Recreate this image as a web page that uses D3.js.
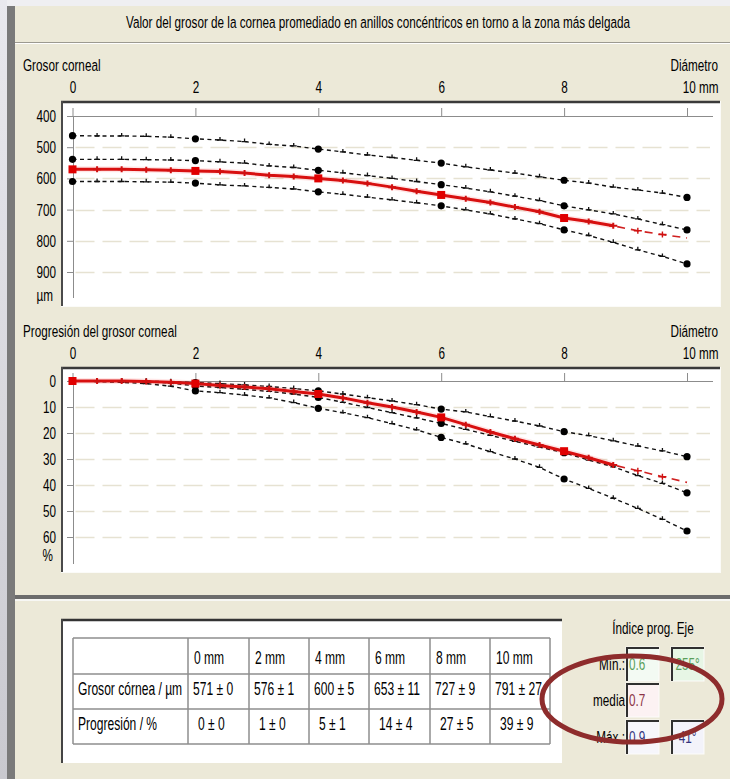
<!DOCTYPE html>
<html><head><meta charset="utf-8">
<script src="https://cdn.jsdelivr.net/npm/d3@7"></script>
<style>html,body{margin:0;padding:0;background:#fff;}svg{display:block;font-family:"Liberation Sans",Arial,sans-serif;}</style>
</head><body><svg id="c" width="730" height="779"></svg>
<script>
// ---------- data ----------
const diameters = [0,0.4,0.8,1.2,1.6,2,2.4,2.8,3.2,3.6,4,4.4,4.8,5.2,5.6,6,6.4,6.8,7.2,7.6,8,8.4,8.8,9.2,9.6,10];
const majorDiameters = [0,2,4,6,8,10];
const thicknessTicks = [400,500,600,700,800,900];
const progressionTicks = [0,10,20,30,40,50,60];

const thickUpper   = [463,464,464,465,468,473,477,482,491,496,506,515,525,533,542,551,563,573,583,595,606,615,628,637,647,661];
const thickMiddle  = [539,539,539,540,541,543,547,551,560,565,574,582,591,600,610,620,631,643,657,671,688,701,714,730,748,765];
const thickLower   = [610,610,610,611,612,615,621,624,629,634,643,651,660,669,678,688,701,714,730,745,765,783,805,829,850,874];
const thickPatient = [571,571,571,572,574,576,578,583,590,594,600,607,616,628,641,653,665,677,692,707,727,738,752,768,780,791];

const progUpper   = [0,0,0,0.1,0.3,0.6,1.0,1.5,2.1,2.9,3.8,5.0,6.4,7.7,9.1,10.8,11.9,13.7,15.4,17.3,19.5,21.0,23.0,25.0,26.9,29.1];
const progMiddle  = [0,0,0.1,0.3,0.8,1.9,2.5,3.2,4.0,5.0,6.3,8.2,10.2,12.2,14.2,16.3,18.6,20.9,23.2,25.4,27.6,30.4,33.0,36.4,39.4,43.0];
const progLower   = [0,0.2,0.5,1.0,2.0,3.8,4.5,5.4,6.5,8.3,10.5,12.2,14.1,16.4,18.8,21.7,24.2,27.2,30.0,33.2,37.7,41.3,45.1,49.0,53.2,57.7];
const progPatient = [0,0,0,0.2,0.5,1.0,1.7,2.3,3.0,4.0,5.0,6.5,8.4,10.0,11.9,14.0,16.8,19.6,22.2,24.6,27.0,29.5,32.3,34.5,36.8,39.0];
const patientMeasuredUntil = 8.8;

const tableHeaders     = ["0 mm","2 mm","4 mm","6 mm","8 mm","10 mm"];
const tableThickness   = ["571 ± 0","576 ± 1","600 ± 5","653 ± 11","727 ± 9","791 ± 27"];
const tableProgression = ["0 ± 0","1 ± 0","5 ± 1","14 ± 4","27 ± 5","39 ± 9"];
const tableRowLabels   = ["Grosor córnea / µm","Progresión / %"];

const indexLabels = ["Mín.:","media","Máx.:"];
const indexValues = ["0.6","0.7","0.9"];
const axisValues  = ["255°",null,"41°"];

// ---------- setup ----------
const svg = d3.select("#c");
const S = 0.69;  // horizontal squeeze of the condensed lettering
const FS = 17;
const BEIGE = "#ece9d8";

function label(parent, x, y, s, anchor, size, fill) {
  return parent.append("text")
    .attr("transform", `translate(${x},${y}) scale(${S},1)`)
    .attr("text-anchor", anchor || "start")
    .attr("font-size", size || FS)
    .attr("fill", fill || "#000")
    .text(s);
}
function squeeze(sel) {
  sel.selectAll("text").each(function () {
    const t = d3.select(this);
    const x = +t.attr("x") || 0;
    t.attr("x", x / S).attr("transform", `scale(${S},1)`);
  });
}

// background / frame
const defs = svg.append("defs");
const lg = defs.append("linearGradient").attr("id","leftg").attr("x1",0).attr("y1",0).attr("x2",0).attr("y2",1);
lg.append("stop").attr("offset","0").attr("stop-color","#e9e9ee");
lg.append("stop").attr("offset","1").attr("stop-color","#c9c9cf");
svg.append("rect").attr("width",730).attr("height",779).attr("fill","#efeff2");
svg.append("rect").attr("x",0).attr("y",0).attr("width",7).attr("height",779).attr("fill","url(#leftg)");
svg.append("rect").attr("x",7).attr("y",6).attr("width",8).attr("height",773).attr("fill","#7a7a7a");
svg.append("rect").attr("x",15).attr("y",6).attr("width",715).attr("height",589).attr("fill",BEIGE);
svg.append("rect").attr("x",15).attr("y",601).attr("width",715).attr("height",178).attr("fill",BEIGE);
svg.append("rect").attr("x",15).attr("y",595).attr("width",715).attr("height",4).attr("fill","#6c6c6c");
svg.append("rect").attr("x",15).attr("y",599).attr("width",715).attr("height",2).attr("fill","#f7f7f4");
// title
label(svg, 378, 28, "Valor del grosor de la cornea promediado en anillos concéntricos en torno a la zona más delgada", "middle");
svg.append("line").attr("x1",15).attr("x2",730).attr("y1",42.5).attr("y2",42.5).attr("stroke","#9c9a90");
svg.append("line").attr("x1",15).attr("x2",730).attr("y1",43.5).attr("y2",43.5).attr("stroke","#ffffff");

const x = d3.scaleLinear().domain([0,10]).range([72.5,687]);

function drawChart(cfg) {
  const g = svg.append("g");
  const y = d3.scaleLinear().domain(cfg.yDomain).range(cfg.yRange);
  const y0 = y(cfg.yDomain[0]);
  // plot box
  g.append("rect").attr("x",61).attr("y",cfg.top).attr("width",659).attr("height",cfg.bottom-cfg.top).attr("fill","#fff");
  g.append("line").attr("x1",61).attr("x2",720).attr("y1",cfg.top+1).attr("y2",cfg.top+1).attr("stroke","#3a3a3a").attr("stroke-width",2.5);
  g.append("line").attr("x1",62).attr("x2",62).attr("y1",cfg.top).attr("y2",cfg.bottom).attr("stroke","#4a4a4a").attr("stroke-width",2);
  g.append("line").attr("x1",720.5).attr("x2",720.5).attr("y1",cfg.top).attr("y2",cfg.bottom).attr("stroke","#fbfbf8");
  g.append("line").attr("x1",61).attr("x2",721).attr("y1",cfg.bottom+0.5).attr("y2",cfg.bottom+0.5).attr("stroke","#fbfbf8");
  // dashed grid
  g.append("g").selectAll("line").data(cfg.ticks.slice(1)).join("line")
    .attr("x1",x(0)+3).attr("x2",710).attr("y1",d=>Math.round(y(d))+0.5).attr("y2",d=>Math.round(y(d))+0.5)
    .attr("stroke","#e6e2d2").attr("stroke-width",1.6).attr("stroke-dasharray","19,8");
  // axis lines
  g.append("line").attr("x1",x(0)).attr("x2",713).attr("y1",Math.round(y0)+0.5).attr("y2",Math.round(y0)+0.5).attr("stroke","#8c8c8c");
  g.append("line").attr("x1",Math.round(x(0))+0.5).attr("x2",Math.round(x(0))+0.5).attr("y1",y0).attr("y2",cfg.bottom-8).attr("stroke","#8c8c8c");
  // inner ticks
  g.append("g").attr("transform",`translate(0,${Math.round(y0)})`)
    .call(d3.axisTop(x).tickValues(majorDiameters).tickSize(8).tickFormat(""))
    .call(s=>{s.select(".domain").remove(); s.selectAll("line").attr("stroke","#8c8c8c");});
  const ay = g.append("g").attr("transform",`translate(${Math.round(x(0))},0)`)
    .call(d3.axisLeft(y).tickValues(cfg.ticks).tickSize(6).tickPadding(11).tickFormat(d3.format("d")))
    .attr("font-size",FS).attr("font-family",null);
  ay.select(".domain").remove();
  ay.selectAll("line").attr("stroke","#8c8c8c");
  ay.selectAll("text").attr("fill","#000");
  squeeze(ay);
  // outer diameter labels
  const ax = g.append("g").attr("transform",`translate(0,${cfg.top-8})`)
    .call(d3.axisTop(x).tickValues(majorDiameters).tickSize(0).tickPadding(0).tickFormat(d=>d===10?"10 mm":d))
    .attr("font-size",FS).attr("font-family",null);
  ax.select(".domain").remove();
  ax.selectAll("text").attr("fill","#000");
  squeeze(ax);
  ax.selectAll("text").filter(d=>d===10).attr("text-anchor","end").attr("x",(718-x(10))/S);
  // headings
  label(g, 23, cfg.top-30, cfg.heading);
  label(g, 718, cfg.top-30, "Diámetro", "end");
  label(g, 53, cfg.unitY, cfg.unit, "end");

  const line = d3.line().x(d=>x(d.d)).y(d=>y(d.v));
  const pts = arr => diameters.map((d,i)=>({d, v:arr[i]}));
  // reference (black dotted) curves
  cfg.refs.forEach(arr=>{
    const p = pts(arr);
    g.append("path").datum(p).attr("d",line).attr("fill","none").attr("stroke","#111")
      .attr("stroke-width",1.4).attr("stroke-dasharray","4,3.5");
    g.append("g").selectAll("path").data(p.filter(q=>!majorDiameters.includes(q.d))).join("path")
      .attr("d",q=>`M${x(q.d)-3},${y(q.v)}h6M${x(q.d)},${y(q.v)}v-3`)
      .attr("stroke","#111").attr("stroke-width",1.3).attr("fill","none");
    g.append("g").selectAll("circle").data(p.filter(q=>majorDiameters.includes(q.d))).join("circle")
      .attr("cx",q=>x(q.d)).attr("cy",q=>y(q.v)).attr("r",3.6).attr("fill","#000");
  });
  // patient curve
  const pp = pts(cfg.patient);
  const solid = pp.filter(q=>q.d<=patientMeasuredUntil+1e-9);
  const dashed = pp.filter(q=>q.d>=patientMeasuredUntil-1e-9);
  g.append("path").datum(solid).attr("d",line).attr("fill","none").attr("stroke","#ff3030")
    .attr("stroke-opacity",0.12).attr("stroke-width",6).attr("stroke-linejoin","round");
  g.append("path").datum(solid).attr("d",line).attr("fill","none").attr("stroke","#d81010").attr("stroke-width",3);
  g.append("path").datum(dashed).attr("d",line).attr("fill","none").attr("stroke","#d02020")
    .attr("stroke-width",1.6).attr("stroke-dasharray","8,6").attr("stroke-dashoffset",-4);
  g.append("g").selectAll("path").data(pp.filter(q=>!majorDiameters.includes(q.d))).join("path")
    .attr("d",q=>`M${x(q.d)-4},${y(q.v)}h8M${x(q.d)},${y(q.v)-3}v6`)
    .attr("stroke","#d01010").attr("stroke-width",q=>q.d>patientMeasuredUntil?1.4:2).attr("fill","none");
  g.append("g").selectAll("rect").data(pp.filter(q=>majorDiameters.includes(q.d)&&q.d<=patientMeasuredUntil)).join("rect")
    .attr("x",q=>x(q.d)-4).attr("y",q=>y(q.v)-4).attr("width",8).attr("height",8).attr("fill","#e00000");
}

drawChart({top:101, bottom:306, yDomain:[400,900], yRange:[116,272], ticks:thicknessTicks,
  heading:"Grosor corneal", unit:"µm", unitY:301,
  refs:[thickUpper,thickMiddle,thickLower], patient:thickPatient});
drawChart({top:367, bottom:572, yDomain:[0,60], yRange:[381,537], ticks:progressionTicks,
  heading:"Progresión del grosor corneal", unit:"%", unitY:561,
  refs:[progUpper,progMiddle,progLower], patient:progPatient});

// ---------- table ----------
const TFS = 17.5;
const tb = svg.append("g");
tb.append("rect").attr("x",61).attr("y",619).attr("width",501).attr("height",144).attr("fill","#fff");
tb.append("line").attr("x1",61).attr("x2",562).attr("y1",620).attr("y2",620).attr("stroke","#333").attr("stroke-width",2.5);
tb.append("line").attr("x1",62).attr("x2",62).attr("y1",619).attr("y2",763).attr("stroke","#444").attr("stroke-width",2);
const colX = [73,188,249,309,369,430,490,550];
const rowY = [638,674,709,744];
tb.append("g").selectAll("line").data(colX).join("line")
  .attr("x1",d=>d).attr("x2",d=>d).attr("y1",rowY[0]).attr("y2",rowY[3]).attr("stroke","#8e8e8e").attr("stroke-width",1.5);
tb.append("g").selectAll("line").data(rowY).join("line")
  .attr("x1",colX[0]).attr("x2",colX[7]).attr("y1",d=>d).attr("y2",d=>d).attr("stroke","#8e8e8e").attr("stroke-width",1.5);
tableHeaders.forEach((h,i)=>label(tb, colX[i+1]+6, 664, h, "start", TFS));
label(tb, colX[0]+5, 695, tableRowLabels[0], "start", TFS);
label(tb, colX[0]+5, 730, tableRowLabels[1], "start", TFS);
tableThickness.forEach((v,i)=>label(tb, colX[i+1]+5, 695, v, "start", TFS));
tableProgression.forEach((v,i)=>label(tb, colX[i+1]+10, 730, v, "start", TFS));

// ---------- progression index panel ----------
const ip = svg.append("g");
label(ip, 653, 634, "Índice prog. Eje", "middle");
const rowsY = [647, 683, 720];
const valFill = ["#f3faf3","#fcf2f3","#f6f6fb"];
const valColor = ["#5a9f5a","#8c3446","#34347e"];
const angFill = ["#e7f6e5",null,"#f3f3fa"];
function sunkBox(x0,y0,w,h,fill){
  ip.append("rect").attr("x",x0).attr("y",y0).attr("width",w).attr("height",h).attr("fill",fill).attr("stroke","#fcfcfa");
  ip.append("path").attr("d",`M${x0+1},${y0+h}V${y0+1}H${x0+w}`).attr("fill","none").attr("stroke","#303030").attr("stroke-width",2);
}
indexLabels.forEach((l,i)=>{
  const yy = rowsY[i];
  label(ip, 625, yy+23, l, "end");
  sunkBox(626, yy, 33, 34, valFill[i]);
  label(ip, 629, yy+23, indexValues[i], "start", FS, valColor[i]);
  if (axisValues[i]) {
    sunkBox(671, yy, 33, 34, angFill[i]);
    label(ip, 687.5, yy+23, axisValues[i], "middle", FS, valColor[i]);
  }
});
// annotation ellipse
svg.append("ellipse").attr("cx",632).attr("cy",699).attr("rx",90).attr("ry",43)
  .attr("fill","none").attr("stroke","#8e2c2c").attr("stroke-width",5);
</script></body></html>
